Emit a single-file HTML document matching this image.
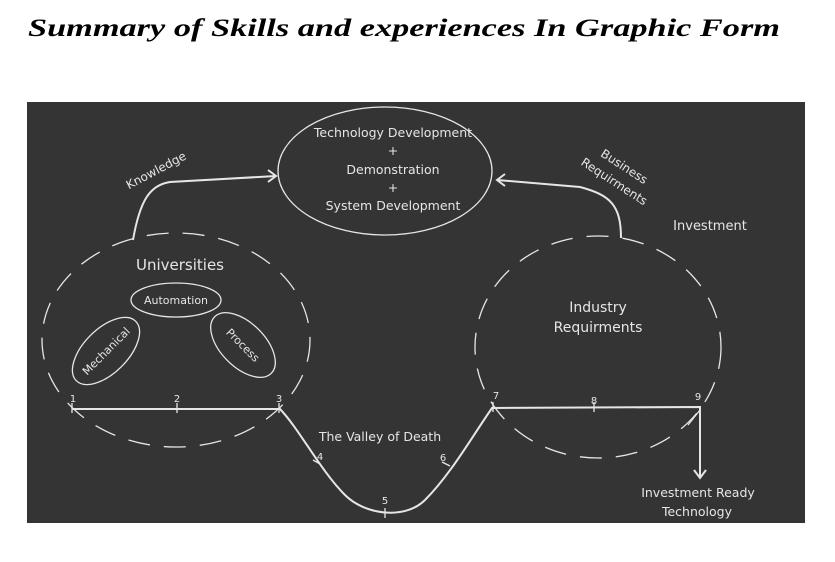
<!DOCTYPE html>
<html><head><style>
html,body{margin:0;padding:0;background:#fff;width:835px;height:562px;overflow:hidden}
</style></head><body>
<svg width="835" height="562" xmlns="http://www.w3.org/2000/svg" style="position:absolute;left:0;top:0">
<text x="28" y="36" font-family="Liberation Serif, serif" font-style="italic" font-weight="bold" font-size="25" fill="#000" textLength="752" lengthAdjust="spacingAndGlyphs">Summary of Skills and experiences In Graphic Form</text>
<rect x="27" y="102" width="778" height="421" fill="#343434"/>
<g fill="none" stroke="#e6e6e6" stroke-width="1.3">
<ellipse cx="385" cy="171" rx="107" ry="64"/>
<ellipse cx="176" cy="340" rx="134" ry="107" stroke-dasharray="22,14"/>
<ellipse cx="598" cy="347" rx="123" ry="111" stroke-dasharray="22,14"/>
<ellipse cx="176" cy="300" rx="45" ry="17"/>
<ellipse cx="106" cy="351" rx="22" ry="42" transform="rotate(45 106 351)"/>
<ellipse cx="243" cy="345" rx="22" ry="40" transform="rotate(-45 243 345)"/>
<path d="M133 240 C140 200 150 185 170 182 L276 176" stroke-width="2"/>
<path d="M268 170 L276 176 L268 182" stroke-width="2"/>
<path d="M621 238 C621 205 610 195 580 187 L497 180" stroke-width="2"/>
<path d="M505 174 L497 180 L505 186" stroke-width="2"/>
<path d="M72 409 L280 409 C300 430 320 470 345 495 C365 515 405 520 425 500 C450 475 470 440 492 408 L700 407 L700 478" stroke-width="2"/>
<path d="M694 470 L700 478 L706 470" stroke-width="2"/>
<path d="M72 403 V413 M177 403 V413 M279 403 V413 M313 460 L320 464 M385 508 V518 M442 462 L450 466 M493 402 V412 M594 402 V412 M700 410 L688 425"/>
</g>
<g font-family="DejaVu Sans, sans-serif" fill="#e6e6e6" font-size="12.5" text-anchor="middle">
<text x="393" y="137">Technology Development</text>
<text x="393" y="155">+</text>
<text x="393" y="174">Demonstration</text>
<text x="393" y="192">+</text>
<text x="393" y="210">System Development</text>
<text x="180" y="270" font-size="15">Universities</text>
<text x="176" y="304" font-size="11">Automation</text>
<text x="106" y="355" font-size="11" transform="rotate(-45 106 351)">Mechanical</text>
<text x="243" y="349" font-size="11" transform="rotate(45 243 345)">Process</text>
<text x="158" y="174" font-size="12" transform="rotate(-28 158 174)">Knowledge</text>
<text x="622" y="170" font-size="12" transform="rotate(33 622 170)">Business</text>
<text x="612" y="185" font-size="12" transform="rotate(33 612 185)">Requirments</text>
<text x="710" y="230" font-size="13">Investment</text>
<text x="598" y="312" font-size="14">Industry</text>
<text x="598" y="332" font-size="14">Requirments</text>
<text x="380" y="441" font-size="12.5">The Valley of Death</text>
<text x="698" y="497" font-size="12.5">Investment Ready</text>
<text x="697" y="516" font-size="12.5">Technology</text>
<g font-size="10">
<text x="73" y="402">1</text><text x="177" y="402">2</text><text x="279" y="402">3</text>
<text x="320" y="460">4</text><text x="385" y="504">5</text><text x="443" y="461">6</text>
<text x="496" y="399">7</text><text x="594" y="404">8</text><text x="698" y="400">9</text>
</g>
</g>
</svg>
</body></html>
